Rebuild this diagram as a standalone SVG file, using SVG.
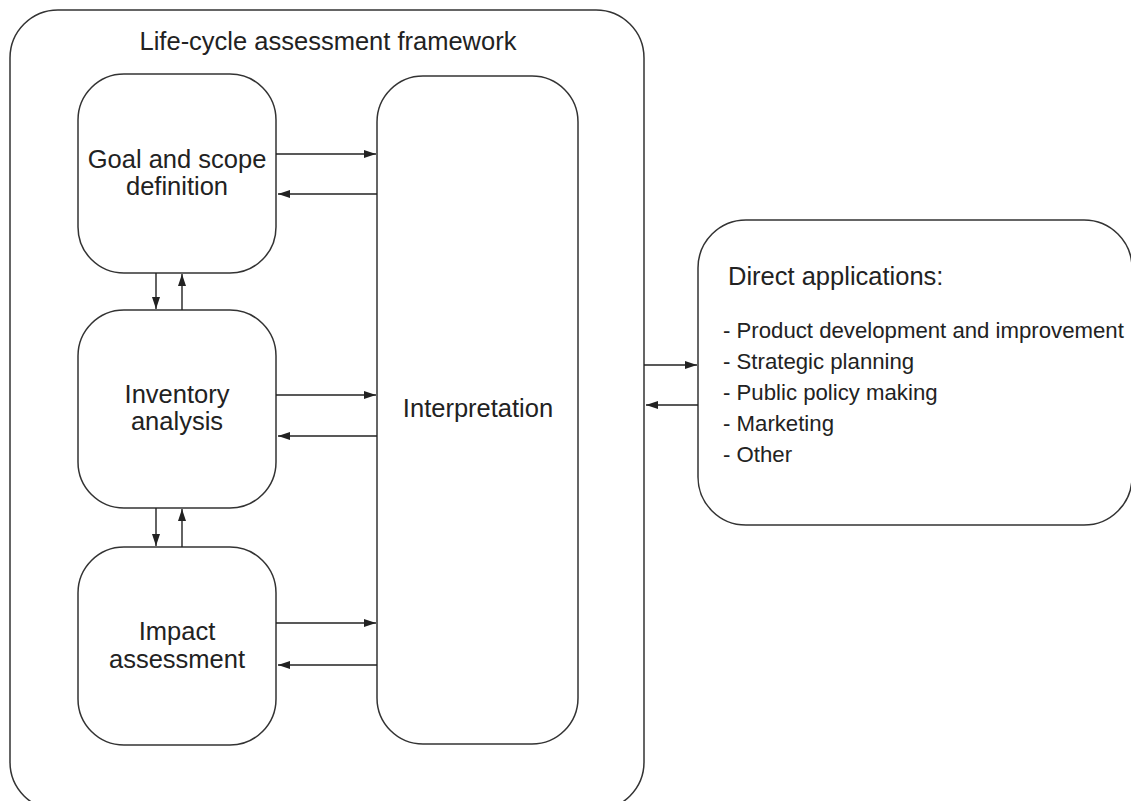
<svg xmlns="http://www.w3.org/2000/svg" width="1131" height="801" viewBox="0 0 1131 801">
<defs>
<marker id="ah" markerWidth="12" markerHeight="8" refX="12" refY="4" orient="auto" markerUnits="userSpaceOnUse">
<path d="M0,0 L12,4 L0,8 Z" fill="#222"/>
</marker>
<style>
.box{fill:#fff;stroke:#333;stroke-width:1.5}
.frame{fill:none;stroke:#333;stroke-width:1.5}
.lbl{font-family:"Liberation Sans",Arial,sans-serif;font-size:25.5px;fill:#222;text-anchor:middle}
.item{font-family:"Liberation Sans",Arial,sans-serif;font-size:22.2px;fill:#222}
.con{stroke:#222;stroke-width:1.4;fill:none;marker-end:url(#ah)}
</style>
</defs>
<rect width="1131" height="801" fill="#fff"/>
<g id="framework">
<rect class="frame" x="10" y="10" width="634" height="800" rx="48" ry="48"/>
<text class="lbl" x="328" y="50">Life-cycle assessment framework</text>
</g>
<g id="goal">
<rect class="box" x="78" y="74" width="198" height="199" rx="46" ry="46"/>
<text class="lbl" x="177" y="168">Goal and scope</text>
<text class="lbl" x="177" y="195">definition</text>
</g>
<g id="inventory">
<rect class="box" x="78" y="310" width="198" height="198" rx="46" ry="46"/>
<text class="lbl" x="177" y="403">Inventory</text>
<text class="lbl" x="177" y="430">analysis</text>
</g>
<g id="impact">
<rect class="box" x="78" y="547" width="198" height="198" rx="46" ry="46"/>
<text class="lbl" x="177" y="640">Impact</text>
<text class="lbl" x="177" y="668">assessment</text>
</g>
<g id="interpretation">
<rect class="box" x="377" y="76" width="201" height="668" rx="46" ry="46"/>
<text class="lbl" x="478" y="417">Interpretation</text>
</g>
<g id="applications">
<rect class="box" x="698" y="220" width="434" height="305" rx="48" ry="48"/>
<text class="lbl" x="728" y="285" style="text-anchor:start">Direct applications:</text>
<text class="item" x="723" y="338">- Product development and improvement</text>
<text class="item" x="723" y="369">- Strategic planning</text>
<text class="item" x="723" y="400">- Public policy making</text>
<text class="item" x="723" y="431">- Marketing</text>
<text class="item" x="723" y="462">- Other</text>
</g>
<g id="connectors">
<line class="con" x1="276" y1="154" x2="376" y2="154"/>
<line class="con" x1="377" y1="194" x2="278" y2="194"/>
<line class="con" x1="276" y1="395" x2="376" y2="395"/>
<line class="con" x1="377" y1="436" x2="278" y2="436"/>
<line class="con" x1="276" y1="623" x2="376" y2="623"/>
<line class="con" x1="377" y1="665" x2="278" y2="665"/>
<line class="con" x1="156" y1="273" x2="156" y2="309"/>
<line class="con" x1="182" y1="310" x2="182" y2="274"/>
<line class="con" x1="156" y1="508" x2="156" y2="546"/>
<line class="con" x1="182" y1="547" x2="182" y2="509"/>
<line class="con" x1="644" y1="365" x2="697" y2="365"/>
<line class="con" x1="698" y1="405" x2="646" y2="405"/>
</g>
</svg>
